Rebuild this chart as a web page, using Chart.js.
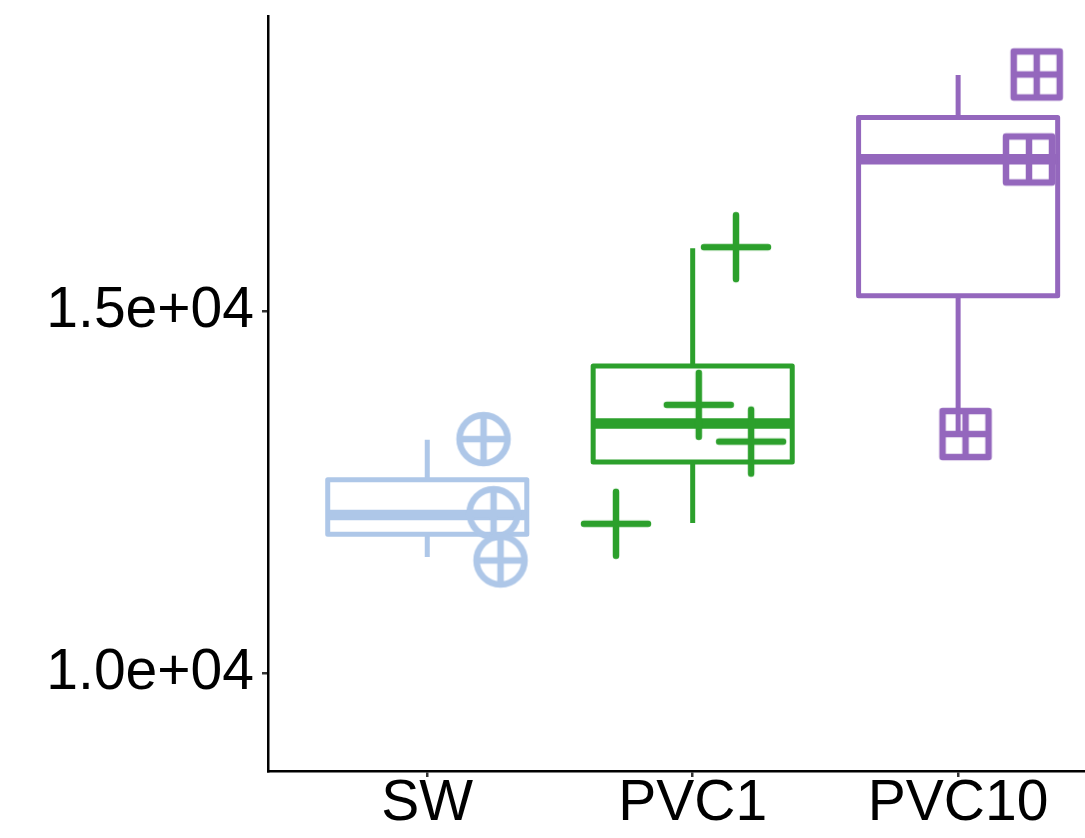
<!DOCTYPE html>
<html>
<head>
<meta charset="utf-8">
<script src="https://cdn.jsdelivr.net/npm/chart.js@4.4.1/dist/chart.umd.min.js"></script>
<style>
html, body { margin: 0; padding: 0; background: #fff; }
#wrap { width: 1085px; height: 838px; }
</style>
</head>
<body>
<div id="wrap"><canvas id="chart" width="1085" height="838"></canvas></div>
<script>
var categories = ['SW', 'PVC1', 'PVC10'];
var colors = ['#aec7e8', '#2ca02c', '#9467bd'];

// box stats
var whiskerLow = [11604, 12074, 13306];
var boxQ1 = [11921, 12918, 15220];
var boxMedian = [12185, 13451, 17107];
var boxQ3 = [12673, 14249, 17685];
var whiskerHigh = [13227, 15877, 18273];

// jittered points (jitter = offset from the category centre)
var swValues = [13236, 12212, 11557];
var swJitter = [0.212, 0.25, 0.276];
var pvc1Values = [15891, 13710, 13202, 12065];
var pvc1Jitter = [0.163, 0.023, 0.22, -0.289];
var pvc10Values = [18280, 17104, 13306];
var pvc10Jitter = [0.296, 0.267, 0.028];

var yTickValues = [10000, 15000];
var yTickLabels = ['1.0e+04', '1.5e+04'];

var FONT = { family: "'Liberation Sans', Arial, sans-serif", size: 57, lineHeight: 1 };
var HALF = 0.375;

// ggplot-like shapes as little canvases
function makeShape(kind, color) {
    var c = document.createElement('canvas');
    c.width = 80; c.height = 80;
    var g = c.getContext('2d');
    g.strokeStyle = color;
    g.lineWidth = 6.5;
    g.lineCap = 'round';
    g.lineJoin = 'round';
    g.translate(40, 40);
    g.beginPath();
    if (kind == 'circleplus') {
        g.arc(0, 0, 24, 0, Math.PI * 2);
        g.moveTo(-24, 0); g.lineTo(24, 0);
        g.moveTo(0, -24); g.lineTo(0, 24);
    } else if (kind == 'plus') {
        g.moveTo(-32, 0); g.lineTo(32, 0);
        g.moveTo(0, -32); g.lineTo(0, 32);
    } else {
        g.rect(-23, -23, 46, 46);
        g.moveTo(-23, 0); g.lineTo(23, 0);
        g.moveTo(0, -23); g.lineTo(0, 23);
    }
    g.stroke();
    return c;
}

var pointSets = [
    { values: swValues, jitter: swJitter, shape: 'circleplus' },
    { values: pvc1Values, jitter: pvc1Jitter, shape: 'plus' },
    { values: pvc10Values, jitter: pvc10Jitter, shape: 'squareplus' }
];

var datasets = [];
categories.forEach(function(cat, i) {
    var xc = i + 1;
    var col = colors[i];
    // whiskers
    datasets.push({
        data: [
            {x: xc, y: whiskerLow[i]}, {x: xc, y: boxQ1[i]},
            {x: xc, y: null},
            {x: xc, y: boxQ3[i]}, {x: xc, y: whiskerHigh[i]}
        ],
        showLine: true, borderColor: col, borderWidth: 5, pointRadius: 0,
        borderCapStyle: 'butt', order: 3
    });
    // box
    datasets.push({
        data: [
            {x: xc - HALF, y: boxQ1[i]}, {x: xc + HALF, y: boxQ1[i]},
            {x: xc + HALF, y: boxQ3[i]}, {x: xc - HALF, y: boxQ3[i]},
            {x: xc - HALF, y: boxQ1[i]}
        ],
        showLine: true, borderColor: col, borderWidth: 5, pointRadius: 0,
        borderJoinStyle: 'round', order: 2
    });
    // median
    datasets.push({
        data: [{x: xc - HALF, y: boxMedian[i]}, {x: xc + HALF, y: boxMedian[i]}],
        showLine: true, borderColor: col, borderWidth: 10.5, pointRadius: 0,
        borderCapStyle: 'butt', order: 1
    });
    // points
    var ps = pointSets[i];
    datasets.push({
        data: ps.values.map(function(v, k) { return {x: xc + ps.jitter[k], y: v}; }),
        showLine: false,
        pointStyle: makeShape(ps.shape, col),
        pointRadius: 20,
        order: 0
    });
});

function noPadding(scale) {
    scale.paddingLeft = 0;
    scale.paddingRight = 0;
    scale.paddingTop = 0;
    scale.paddingBottom = 0;
}

new Chart(document.getElementById('chart').getContext('2d'), {
    type: 'scatter',
    data: { datasets: datasets },
    options: {
        responsive: false,
        animation: false,
        layout: { autoPadding: false, padding: { top: 16, right: 0, bottom: 0, left: 0 } },
        plugins: { legend: { display: false }, tooltip: { enabled: false } },
        scales: {
            x: {
                type: 'linear',
                min: 0.4,
                max: 3.478,
                afterBuildTicks: function(scale) {
                    scale.ticks = categories.map(function(c, i) { return {value: i + 1}; });
                },
                afterFit: function(scale) { scale.height = 67; noPadding(scale); },
                ticks: {
                    callback: function(v) { return categories[Math.round(v) - 1]; },
                    font: FONT, color: '#000', padding: -1,
                    maxRotation: 0, autoSkip: false
                },
                grid: { drawOnChartArea: false, drawTicks: true, tickLength: 6, color: '#333', lineWidth: 2.5 },
                border: { color: '#000', width: 2.5 }
            },
            y: {
                type: 'linear',
                min: 8645,
                max: 19089,
                afterBuildTicks: function(scale) {
                    scale.ticks = yTickValues.map(function(v) { return {value: v}; });
                },
                afterFit: function(scale) { scale.width = 268; noPadding(scale); },
                ticks: {
                    callback: function(v) { return yTickLabels[yTickValues.indexOf(v)]; },
                    font: FONT, color: '#000', padding: 8
                },
                grid: { drawOnChartArea: false, drawTicks: true, tickLength: 6, color: '#333', lineWidth: 2.5 },
                border: { color: '#000', width: 2.5 }
            }
        }
    }
});
</script>
</body>
</html>
